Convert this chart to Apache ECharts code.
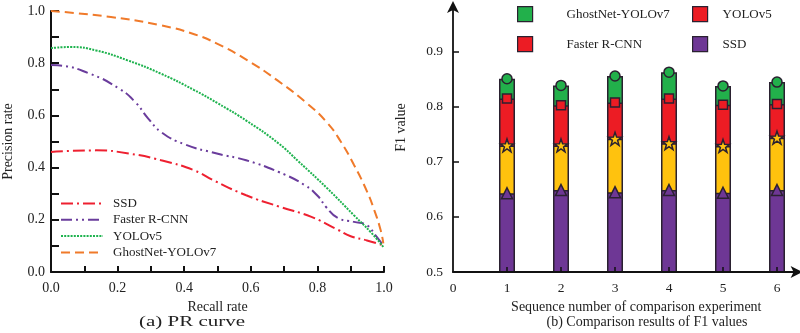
<!DOCTYPE html>
<html>
<head>
<meta charset="utf-8">
<script src="https://cdn.jsdelivr.net/npm/echarts@6/dist/echarts.min.js"></script>
<style>
  html, body { margin: 0; padding: 0; background: #fff; }
  #chart { width: 800px; height: 333px; }
</style>
</head>
<body>
<div id="chart"></div>
<script>
// ---- (a) PR curves: recall / precision samples per model ----
const ghostRecall    = [0, 0.18, 0.33, 0.43, 0.50, 0.59, 0.68, 0.77, 0.83, 0.87, 0.91, 0.945, 0.97, 0.99, 0.998];
const ghostPrecision = [1.0, 0.977, 0.945, 0.911, 0.874, 0.811, 0.734, 0.645, 0.571, 0.50, 0.41, 0.32, 0.24, 0.16, 0.11];

const yoloRecall    = [0, 0.06, 0.135, 0.23, 0.33, 0.43, 0.50, 0.59, 0.684, 0.743, 0.83, 0.91, 0.96, 0.998];
const yoloPrecision = [0.858, 0.862, 0.849, 0.811, 0.760, 0.697, 0.647, 0.577, 0.492, 0.424, 0.32, 0.217, 0.153, 0.096];

const frcnnRecall    = [0, 0.02, 0.116, 0.204, 0.253, 0.292, 0.331, 0.40, 0.498, 0.586, 0.684, 0.763, 0.802, 0.826, 0.861, 0.91, 0.949, 0.974, 0.998];
const frcnnPrecision = [0.793, 0.792, 0.760, 0.703, 0.651, 0.588, 0.536, 0.490, 0.454, 0.428, 0.383, 0.332, 0.290, 0.249, 0.207, 0.192, 0.179, 0.141, 0.102];

const ssdRecall    = [0, 0.135, 0.233, 0.331, 0.429, 0.493, 0.586, 0.684, 0.782, 0.861, 0.90, 0.949, 0.998];
const ssdPrecision = [0.46, 0.466, 0.454, 0.428, 0.39, 0.348, 0.294, 0.251, 0.211, 0.162, 0.137, 0.121, 0.102];

const prTicks = [0, 0.2, 0.4, 0.6, 0.8, 1.0];

// ---- (b) F1 values per comparison experiment ----
const experiments = [1, 2, 3, 4, 5, 6];
const f1Ghost = [0.851, 0.839, 0.856, 0.863, 0.838, 0.845];
const f1Yolo  = [0.815, 0.803, 0.808, 0.815, 0.804, 0.805];
const f1Frcnn = [0.730, 0.730, 0.742, 0.734, 0.729, 0.744];
const f1Ssd   = [0.643, 0.649, 0.645, 0.649, 0.644, 0.649];
const expTicks = [0, 1, 2, 3, 4, 5, 6];
const f1Ticks = [0.5, 0.6, 0.7, 0.8, 0.9];

const FONT = "'Liberation Serif', 'Times New Roman', serif";
const INK = '#222';
const EDGE = '#2a2130';

const C = {
  orange: '#f07a2a', green: '#1fb34f', purple: '#6a3c9c', red: '#ee2030',
  barGreen: '#22b04b', barRed: '#ec1c24', barYellow: '#ffc20e', barPurple: '#6e3795'
};

const zip = (a, b) => a.map((v, i) => [v, b[i]]);

const STAR = 'path://M50 0 L61.76 33.82 L97.55 34.55 L69.02 56.18 L79.39 90.45 L50 70 L20.61 90.45 L30.98 56.18 L2.45 34.55 L38.24 33.82 Z';

function prLine(name, rec, prec, color, dash) {
  return {
    type: 'line', name, xAxisIndex: 0, yAxisIndex: 0,
    data: zip(rec, prec), symbol: 'none', smooth: 0.5,
    lineStyle: { color, width: 2, type: dash }, itemStyle: { color }, z: 3
  };
}

function f1Bar(name, vals, color) {
  return {
    type: 'bar', name, xAxisIndex: 1, yAxisIndex: 1,
    data: zip(experiments, vals), barWidth: 16, barGap: '-100%',
    itemStyle: { color, borderColor: EDGE, borderWidth: 1.5 }, z: 2
  };
}

function f1Mark(name, vals, color, symbol, size) {
  return {
    type: 'scatter', name, xAxisIndex: 1, yAxisIndex: 1,
    data: zip(experiments, vals), symbol, symbolSize: size,
    itemStyle: { color, borderColor: EDGE, borderWidth: 1.5, opacity: 1 }, z: 5
  };
}

const legendText = { fontFamily: FONT, fontSize: 13, color: INK };

function squareLegend(name, color, left, top, gap) {
  return {
    data: [{ name, itemStyle: { color } }],
    left, top, padding: 0, icon: 'rect', itemWidth: 15, itemHeight: 15, selectedMode: false,
    itemStyle: { borderColor: EDGE, borderWidth: 1.2 },
    textStyle: Object.assign({ padding: [0, 0, 0, gap] }, legendText)
  };
}

const option = {
  animation: false,
  backgroundColor: '#fff',
  textStyle: { fontFamily: FONT },
  grid: [
    { left: 44, top: 11, width: 340, height: 261 },
    { left: 453, top: 5, width: 345.6, height: 267 }
  ],
  xAxis: [
    {
      type: 'value', gridIndex: 0, min: 0, max: 1, interval: 0.1,
      name: 'Recall rate', nameLocation: 'middle', nameGap: 24,
      nameTextStyle: { fontFamily: FONT, fontSize: 14, color: INK },
      axisLine: { lineStyle: { color: '#111', width: 2 } },
      axisTick: { inside: true, length: 6, lineStyle: { color: '#111', width: 2 } },
      axisLabel: { customValues: prTicks, formatter: v => v.toFixed(1), margin: 9,
                   fontFamily: FONT, fontSize: 14, color: INK },
      splitLine: { show: false }
    },
    {
      type: 'value', gridIndex: 1, min: 0, max: 6.4, interval: 1,
      name: 'Sequence number of comparison experiment', nameLocation: 'middle', nameGap: 24,
      nameTextStyle: { fontFamily: FONT, fontSize: 14, color: INK, padding: [0, 0, 0, 21] },
      axisLine: { symbol: ['none', 'arrow'], symbolSize: [9, 12], symbolOffset: [0, 4],
                  lineStyle: { color: '#111', width: 1.8 } },
      axisTick: { inside: true, length: 5, customValues: [1, 2, 3, 4, 5, 6],
                  lineStyle: { color: '#111', width: 1.5 } },
      axisLabel: { customValues: expTicks, margin: 9, fontFamily: FONT, fontSize: 13.5, color: INK },
      splitLine: { show: false }, z: 4
    }
  ],
  yAxis: [
    {
      type: 'value', gridIndex: 0, min: 0, max: 1, interval: 0.1,
      name: 'Precision rate', nameLocation: 'middle', nameGap: 36,
      nameTextStyle: { fontFamily: FONT, fontSize: 14, color: INK },
      axisLine: { show: true, lineStyle: { color: '#111', width: 2 } },
      axisTick: { show: true, inside: true, length: 8, lineStyle: { color: '#111', width: 2 } },
      axisLabel: { customValues: prTicks, formatter: v => v.toFixed(1), margin: 6,
                   fontFamily: FONT, fontSize: 14, color: INK },
      splitLine: { show: false }
    },
    {
      type: 'value', gridIndex: 1, min: 0.5, max: 0.985, interval: 0.1,
      name: 'F1 value', nameLocation: 'middle', nameGap: 45,
      nameTextStyle: { fontFamily: FONT, fontSize: 14, color: INK, padding: [0, 0, 0, 22] },
      axisLine: { show: true, symbol: ['none', 'arrow'], symbolSize: [9, 12], symbolOffset: [0, 4],
                  lineStyle: { color: '#111', width: 1.8 } },
      axisTick: { show: true, inside: true, length: 6, customValues: [0.6, 0.7, 0.8, 0.9],
                  lineStyle: { color: '#111', width: 1.5 } },
      axisLabel: { customValues: f1Ticks, formatter: v => v.toFixed(1), margin: 10,
                   fontFamily: FONT, fontSize: 13.5, color: INK },
      splitLine: { show: false }
    }
  ],
  legend: [
    {
      data: ['SSD', 'Faster R-CNN', 'YOLOv5', 'GhostNet-YOLOv7'],
      orient: 'vertical', left: 60, top: 197, padding: 0,
      itemWidth: 42, itemHeight: 13, itemGap: 3.3,
      selectedMode: false,
      itemStyle: { opacity: 0 },
      textStyle: Object.assign({ padding: [0, 0, 0, 5] }, legendText)
    },
    squareLegend('GhostNet-YOLOv7', C.barGreen, 517, 6, 29),
    squareLegend('YOLOv5', C.barRed, 692, 6, 10),
    squareLegend('Faster R-CNN', C.barRed, 517, 36, 29),
    squareLegend('SSD', C.barPurple, 692, 36, 10)
  ],
  graphic: [
    { type: 'text', x: 192, y: 322, scaleX: 1.5,
      style: { text: '(a) PR curve', fontFamily: FONT, fontSize: 14, fill: INK,
               textAlign: 'center', textVerticalAlign: 'middle' } },
    { type: 'text', x: 647, y: 322,
      style: { text: '(b) Comparison results of F1 values', fontFamily: FONT, fontSize: 14, fill: INK,
               textAlign: 'center', textVerticalAlign: 'middle' } }
  ],
  series: [
    prLine('SSD', ssdRecall, ssdPrecision, C.red, [12, 4, 2, 4]),
    prLine('Faster R-CNN', frcnnRecall, frcnnPrecision, C.purple, [11, 4, 2, 4, 2, 4]),
    prLine('YOLOv5', yoloRecall, yoloPrecision, C.green, [2, 1.2]),
    prLine('GhostNet-YOLOv7', ghostRecall, ghostPrecision, C.orange, [9, 5]),

    f1Bar('GhostNet-YOLOv7', f1Ghost, C.barGreen),
    f1Bar('YOLOv5', f1Yolo, C.barRed),
    f1Bar('Faster R-CNN', f1Frcnn, C.barYellow),
    f1Bar('SSD', f1Ssd, C.barPurple),

    f1Mark('GhostNet-YOLOv7', f1Ghost, C.barGreen, 'circle', 10),
    f1Mark('YOLOv5', f1Yolo, C.barRed, 'rect', 9),
    f1Mark('Faster R-CNN', f1Frcnn, C.barYellow, STAR, 13),
    f1Mark('SSD', f1Ssd, C.barPurple, 'triangle', 11)
  ]
};

const chart = echarts.init(document.getElementById('chart'), null, { renderer: 'canvas' });
chart.setOption(option);
</script>
</body>
</html>
